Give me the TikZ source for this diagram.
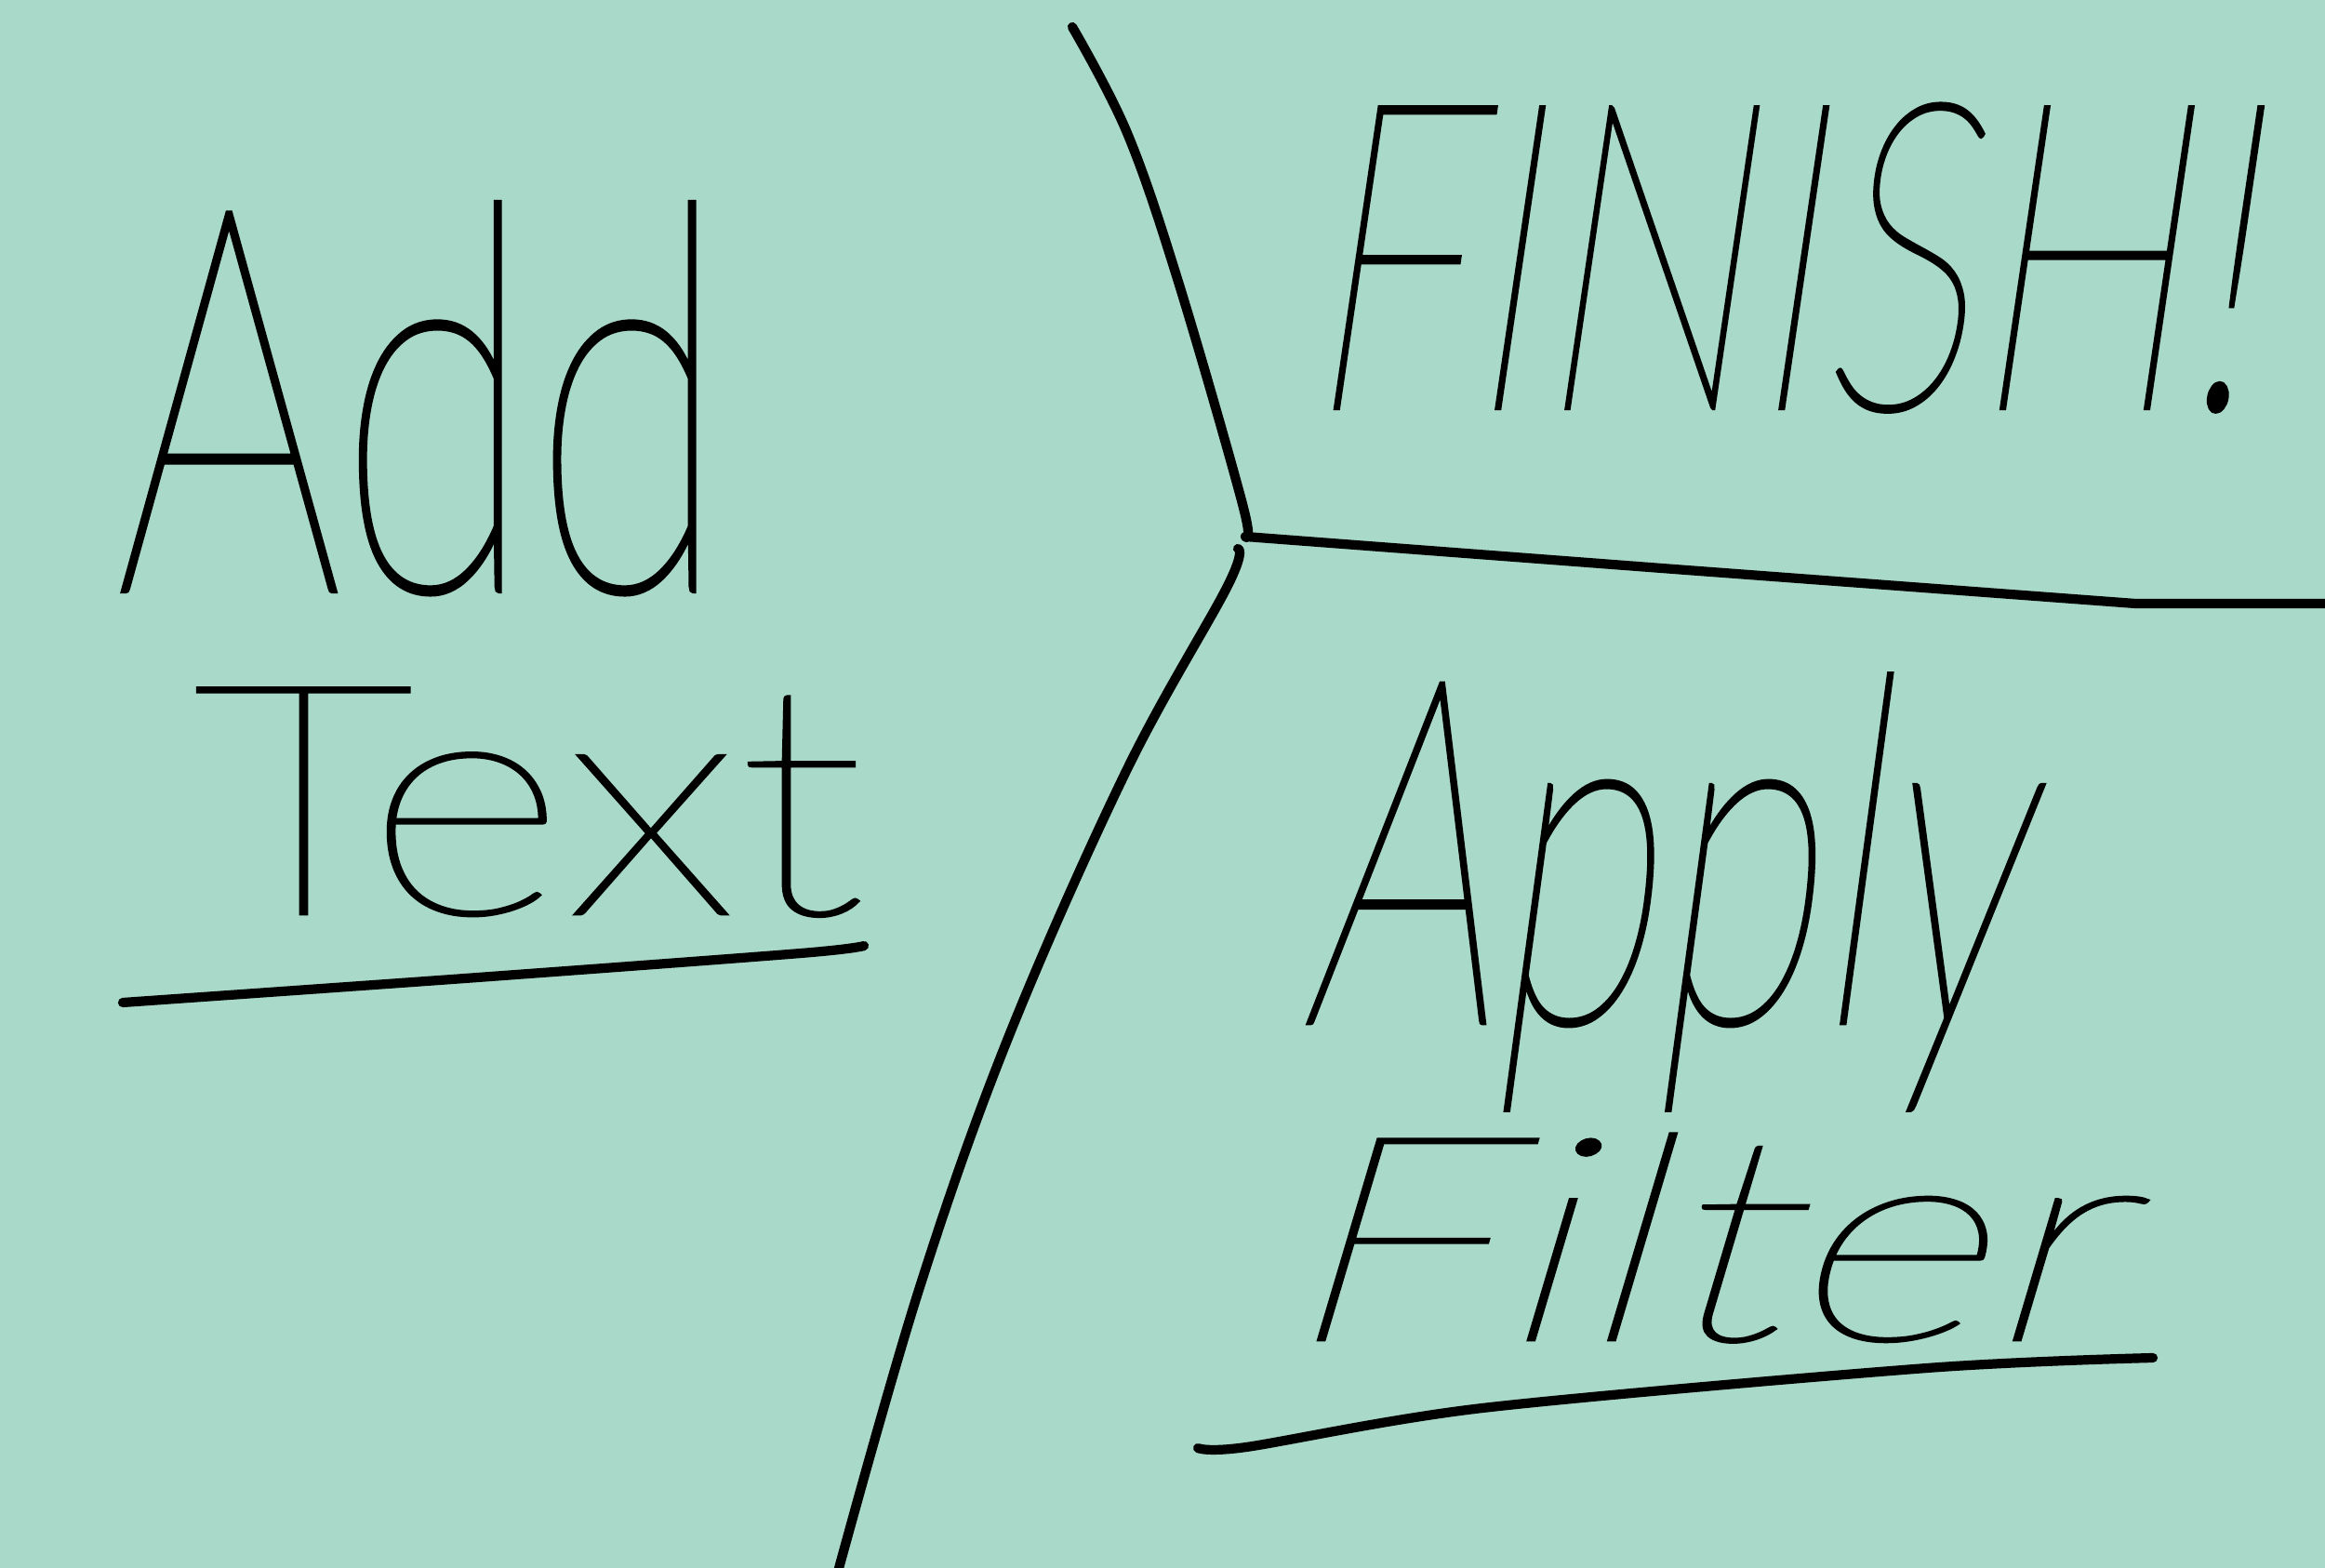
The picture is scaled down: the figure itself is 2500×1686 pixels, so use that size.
\documentclass[tikz,border=0pt]{standalone}
\usepackage{fontspec}
\usepackage{graphicx}
\newfontfamily\handup{Lato Hairline}[FakeBold=1.1]
\newfontfamily\handit{Lato Hairline}[FakeSlant=0.22,FakeBold=1.1]
\definecolor{mint}{RGB}{169,217,200}
\tikzset{
  word/.style={inner sep=0pt, outer sep=0pt, text=black, anchor=north west},
  pen/.style={draw=black, line width=2.9pt, line cap=round, line join=round}
}
\begin{document}
\begin{tikzpicture}[x=0.01cm, y=-0.01cm]
\fill[mint] (0,0) rectangle (2500,1686);
\useasboundingbox (0,0) rectangle (2500,1686);
% junction
\coordinate (j) at (1339,577);
\coordinate (j2) at (1331,590);
% upper divider
\draw[pen] plot[smooth, tension=0.6] coordinates {(1153,29) (1212,143) (1267,303) (1336,542) (j)};
\draw[pen] (j) -- (1800,612) -- (2296,649) -- (2500,649);
% lower divider
\draw[pen] plot[smooth, tension=0.6] coordinates {(j2) (1320,630) (1211,829) (1084,1116) (988,1387) (901,1690)};
% texts
\node[word] (add) at (124,218) {\resizebox*{6.57cm}{4.2cm}{\handup Add}};
\node[word] (text) at (207,740) {\resizebox*{7.22cm}{2.45cm}{\handup Text}};
\node[word] (finish) at (1400,112) {\resizebox*{10.2cm}{3.3cm}{\handit FINISH!}};
\node[word] (apply) at (1400,725) {\resizebox*{7.7cm}{4.67cm}{\handit Apply}};
\node[word] (filter) at (1370,1219) {\resizebox*{9.0cm}{2.24cm}{\handit Filter}};
% underlines
\coordinate (u1a) at (132,1078);
\coordinate (u1b) at (929,1017);
\draw[pen] plot[smooth, tension=0.5] coordinates {(u1a) (500,1052) (861,1025) (u1b)};
\coordinate (u2a) at (1288,1557);
\coordinate (u2b) at (2315,1460);
\draw[pen] plot[smooth, tension=0.5] coordinates {(u2a) (1340,1556) (1594,1514) (2072,1471) (u2b)};
\end{tikzpicture}
\end{document}
